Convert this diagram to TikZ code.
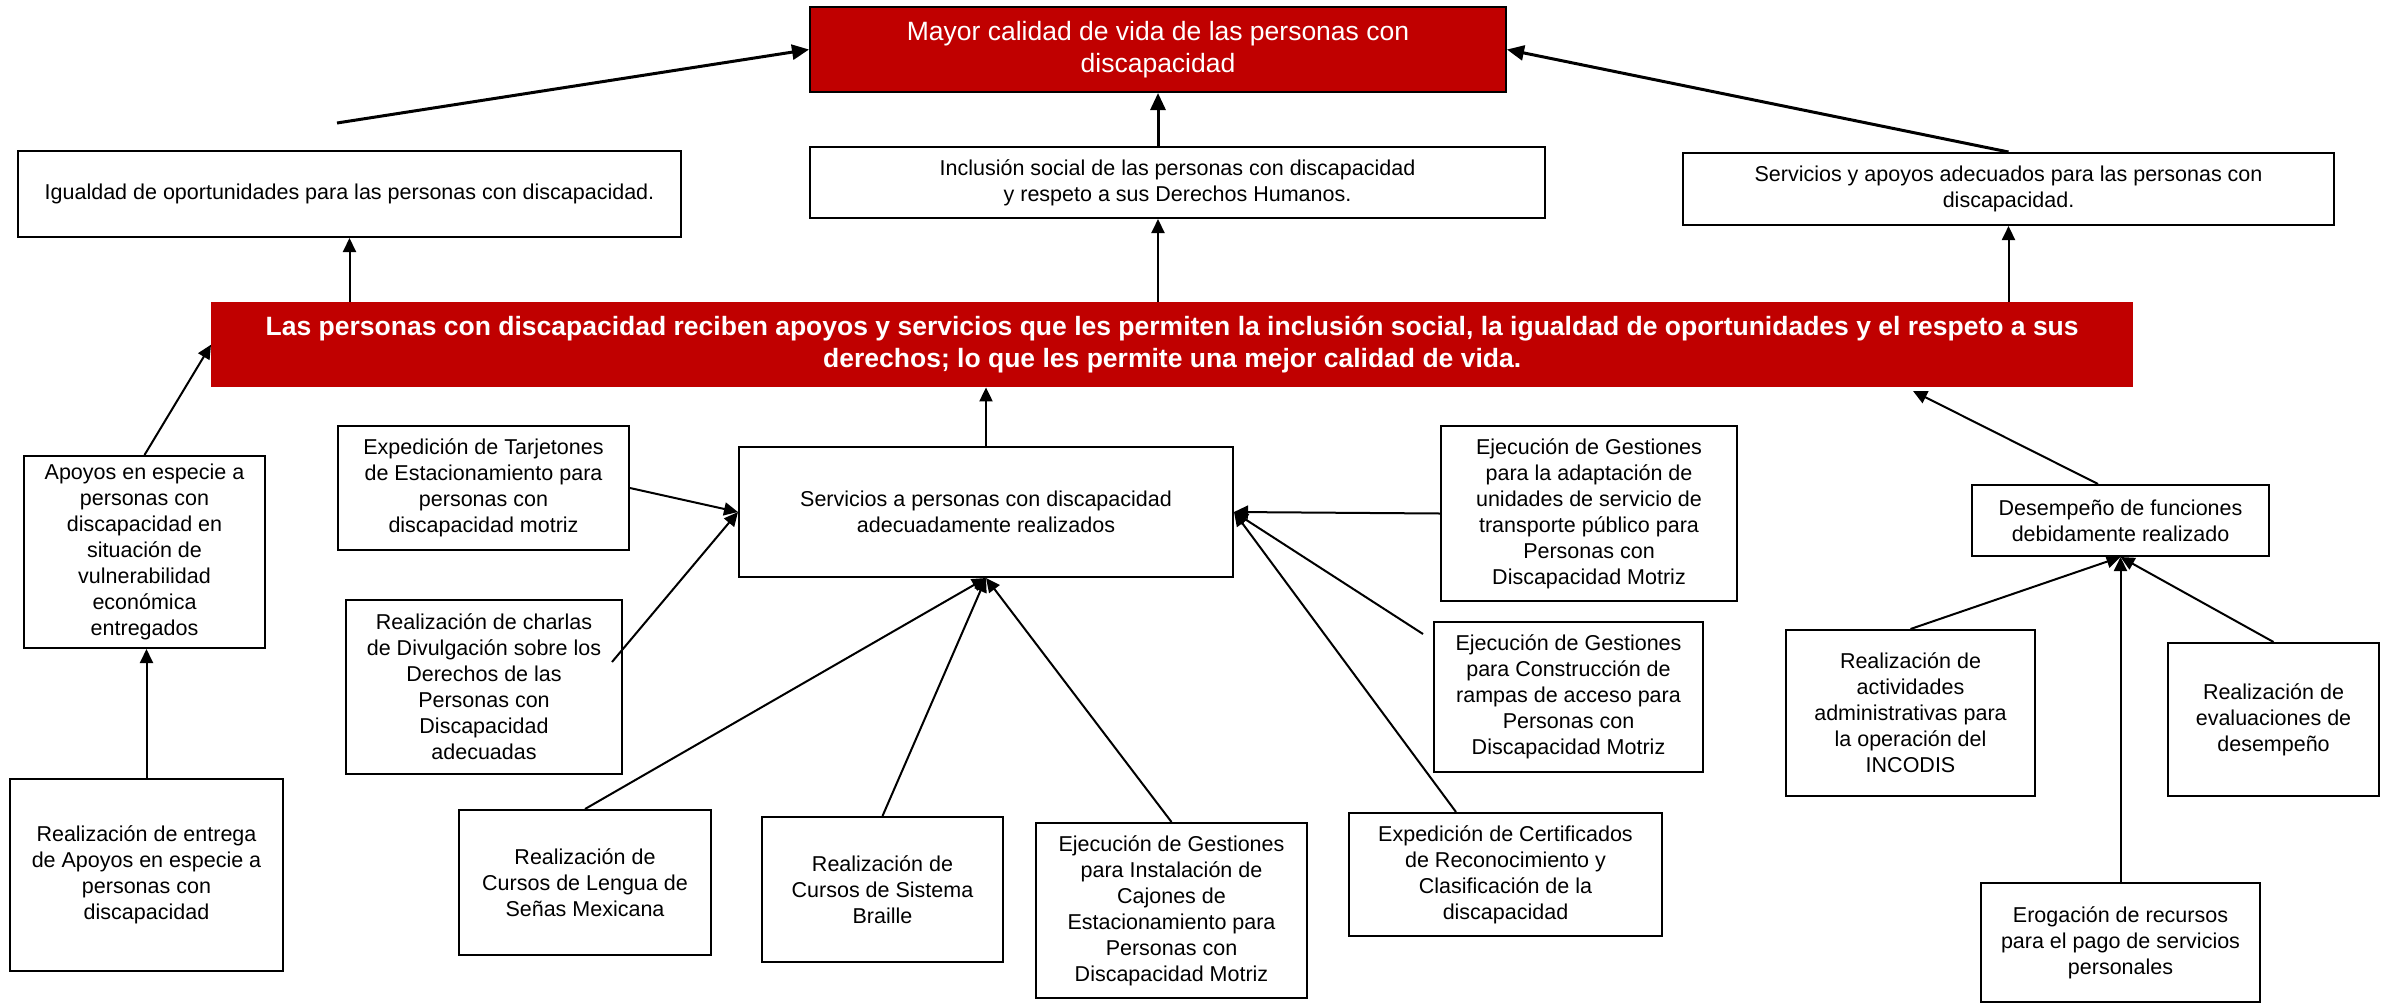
\documentclass[tikz,border=0pt]{standalone}
\usepackage{fontspec}
\setmainfont{Liberation Sans}
\usetikzlibrary{arrows.meta,calc}
\definecolor{rc}{RGB}{192,0,0}
\begin{document}
\begin{tikzpicture}[x=1pt,y=-1pt,
  box/.style={draw=black, line width=2pt, fill=white, align=center, anchor=north west,
    inner sep=0pt, text=black, font=\fontsize{21.5}{26}\selectfont},
  redbox/.style={fill=rc, align=center, anchor=north west, inner sep=0pt, text=white},
  conn/.style={line width=2pt, -{Triangle[length=14pt,width=13pt]}},
  thickconn/.style={line width=3pt, -{Triangle[length=17pt,width=15pt]}}]
\fill[white] (0,0) rectangle (2390,1002);
\useasboundingbox (0,0) rectangle (2390,1002);

% top level
\node[redbox, draw=black, line width=2pt, minimum width=696pt, minimum height=85pt,
  font=\fontsize{26.5}{32}\selectfont] (top) at (809,6)
  {Mayor calidad de vida de las personas con\\discapacidad};
\node[box, minimum width=663pt, minimum height=86pt] (igual) at (17,150)
  {Igualdad de oportunidades para las personas con discapacidad.};
\node[box, minimum width=735pt, minimum height=71pt] (incl) at (809,146)
  {Inclusión social de las personas con discapacidad\\y respeto a sus Derechos Humanos.};
\node[box, minimum width=651pt, minimum height=72pt] (servy) at (1682,152)
  {Servicios y apoyos adecuados para las personas con\\discapacidad.};
\node[redbox, minimum width=1922pt, minimum height=85pt,
  font=\fontsize{26.5}{32}\selectfont\bfseries] (main) at (211,302)
  {Las personas con discapacidad reciben apoyos y servicios que les permiten la inclusión social, la igualdad de oportunidades y el respeto a sus\\derechos; lo que les permite una mejor calidad de vida.};

% left column
\node[box, minimum width=241pt, minimum height=192pt] (apoyos) at (23,455)
  {Apoyos en especie a\\personas con\\discapacidad en\\situación de\\vulnerabilidad\\económica\\entregados};
\node[box, minimum width=273pt, minimum height=192pt] (entrega) at (9,778)
  {Realización de entrega\\de Apoyos en especie a\\personas con\\discapacidad};

% services
\node[box, minimum width=494pt, minimum height=130pt] (serv) at (738,446)
  {Servicios a personas con discapacidad\\adecuadamente realizados};
\node[box, minimum width=291pt, minimum height=124pt] (tarj) at (337,425)
  {Expedición de Tarjetones\\de Estacionamiento para\\personas con\\discapacidad motriz};
\node[box, minimum width=276pt, minimum height=174pt] (charlas) at (345,599)
  {Realización de charlas\\de Divulgación sobre los\\Derechos de las\\Personas con\\Discapacidad\\adecuadas};
\node[box, minimum width=252pt, minimum height=145pt] (senas) at (458,809)
  {Realización de\\Cursos de Lengua de\\Señas Mexicana};
\node[box, minimum width=241pt, minimum height=145pt] (braille) at (761,816)
  {Realización de\\Cursos de Sistema\\Braille};
\node[box, minimum width=271pt, minimum height=175pt] (cajones) at (1035,822)
  {Ejecución de Gestiones\\para Instalación de\\Cajones de\\Estacionamiento para\\Personas con\\Discapacidad Motriz};
\node[box, minimum width=296pt, minimum height=175pt] (adapt) at (1440,425)
  {Ejecución de Gestiones\\para la adaptación de\\unidades de servicio de\\transporte público para\\Personas con\\Discapacidad Motriz};
\node[box, minimum width=269pt, minimum height=150pt] (rampas) at (1433,621)
  {Ejecución de Gestiones\\para Construcción de\\rampas de acceso para\\Personas con\\Discapacidad Motriz};
\node[box, minimum width=313pt, minimum height=123pt] (cert) at (1348,812)
  {Expedición de Certificados\\de Reconocimiento y\\Clasificación de la\\discapacidad};

% right group
\node[box, minimum width=297pt, minimum height=71pt] (desemp) at (1971,484)
  {Desempeño de funciones\\debidamente realizado};
\node[box, minimum width=249pt, minimum height=166pt] (activ) at (1785,629)
  {Realización de\\actividades\\administrativas para\\la operación del\\INCODIS};
\node[box, minimum width=211pt, minimum height=153pt] (eval) at (2167,642)
  {Realización de\\evaluaciones de\\desempeño};
\node[box, minimum width=279pt, minimum height=119pt] (erog) at (1980,882)
  {Erogación de recursos\\para el pago de servicios\\personales};

% free ends
\coordinate (free) at (337,123);
\coordinate (chs) at (612,662);
\coordinate (rms) at (1423,634);
\coordinate (cts) at (1456,812);
\coordinate (dss) at (2098,484);
\coordinate (dse) at (1913,391);

% connectors
\draw[thickconn] (free) -- (top.west);
\draw[thickconn] (servy.north) -- (top.east);
\draw[thickconn] (incl.north -| top.south) -- (top.south);
\draw[conn] (main.north -| igual.south) -- (igual.south);
\draw[conn] (main.north -| top.south) -- (incl.south -| top.south);
\draw[conn] (main.north -| servy.south) -- (servy.south);
\draw[conn] (apoyos.north) -- (main.west);
\draw[conn] (entrega.north) -- (entrega.north |- apoyos.south);
\draw[conn] (serv.north) -- (serv.north |- main.south);
\draw[conn] (tarj.east) -- (serv.west);
\draw[conn] (chs) -- (serv.west);
\draw[conn] (senas.north) -- (serv.south);
\draw[conn] (braille.north) -- (serv.south);
\draw[conn] (cajones.north) -- (serv.south);
\draw[conn] (adapt.west) -- (serv.east);
\draw[conn] (rms) -- (serv.east);
\draw[conn] (cts) -- (serv.east);
\draw[conn] (dss) -- (dse);
\draw[conn] (activ.north) -- (desemp.south);
\draw[conn] (eval.north) -- (desemp.south);
\draw[conn] (erog.north) -- (desemp.south);
\end{tikzpicture}
\end{document}
